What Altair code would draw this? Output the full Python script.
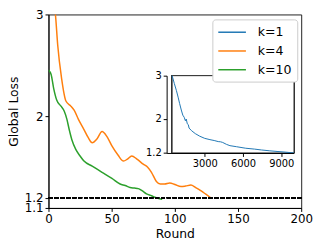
import altair as alt
import pandas as pd

# ---- data ----
series_names = ["k=1", "k=4", "k=10"]
series_colors = ["#1f77b4", "#ff7f0e", "#2ca02c"]

k4_round = [0, 3, 5.5, 7.3, 10.4, 13.8, 17.7, 20.3, 23.7, 28.1, 31.5, 34.6, 38.5, 42.4,
            46.3, 50.2, 55, 59.4, 62.5, 65.9, 70, 75, 78.5, 81.5, 85.4, 88.5, 91.9, 96,
            100, 104.9, 108.5, 112.7, 116.5, 120.5, 124.5, 128.4]
k4_loss = [3.45, 3.18, 3.0, 2.70, 2.37, 2.15, 2.10, 2.06, 1.97, 1.87, 1.79, 1.74, 1.78, 1.85,
           1.80, 1.71, 1.62, 1.56, 1.58, 1.61, 1.58, 1.53, 1.50, 1.45, 1.36, 1.335, 1.335, 1.345,
           1.33, 1.31, 1.315, 1.325, 1.30, 1.27, 1.235, 1.20]

k10_round = [0, 2.1, 4.1, 6.5, 9.9, 12.5, 14.6, 16.4, 18.5, 21.6, 25, 28.1, 34.6, 42.4,
             50.2, 56.7, 60.7, 64.6, 68, 71.1, 74, 77.6, 81.5, 84.1, 88, 90]
k10_loss = [2.455, 2.41, 2.275, 2.16, 2.10, 2.05, 1.97, 1.87, 1.77, 1.675, 1.61, 1.56, 1.51, 1.45,
            1.39, 1.335, 1.32, 1.30, 1.295, 1.29, 1.27, 1.238, 1.22, 1.205, 1.19, 1.185]

k1_round = [430, 600, 770, 900, 1020, 1150, 1270, 1380, 1470, 1540, 1620, 1700, 1760, 1950,
            2250, 2600, 2990, 3400, 3730, 4050, 4230, 4400, 4700, 4970, 5500, 6210, 6900,
            7440, 8100, 8670, 9300, 10000]
k1_loss = [3.0, 2.82, 2.65, 2.5, 2.35, 2.2, 2.08, 2.03, 1.95, 1.99, 1.88, 1.86, 1.78, 1.72,
           1.65, 1.59, 1.54, 1.51, 1.49, 1.465, 1.46, 1.445, 1.40, 1.37, 1.345, 1.31, 1.29,
           1.27, 1.25, 1.235, 1.22, 1.2]

x_ticks = [0, 50, 100, 150, 200]
y_ticks = [1.1, 1.2, 2, 3]
x_domain = [0, 200]
y_domain = [1.1, 3]
inset_x_ticks = [3000, 6000, 9000]
inset_y_ticks = [1.2, 2, 3]
inset_x_domain = [430, 10000]
inset_y_domain = [1.2, 3]
target_loss = 1.2

main_df = pd.DataFrame({
    "round": k4_round + k10_round,
    "loss": k4_loss + k10_loss,
    "k": ["k=4"] * len(k4_round) + ["k=10"] * len(k10_round),
})
inset_df = pd.DataFrame({"round": k1_round, "loss": k1_loss, "k": ["k=1"] * len(k1_round)})

# ---- layout ----
W, H = 256, 196
IN_L, IN_R, IN_T, IN_B = 119.7, 248.7, 62, 140.3
FONT = "DejaVu Sans"

axis_style = dict(
    grid=False, domainColor="black", tickColor="black", labelColor="black",
    titleColor="black", tickSize=3.5, labelPadding=2, labelFlush=False,
    labelOverlap=False, labelFont=FONT, titleFont=FONT, titleFontWeight="normal",
)

color = alt.Color(
    "k:N",
    scale=alt.Scale(domain=series_names, range=series_colors),
    legend=alt.Legend(
        title=None, orient="none", legendX=166, legendY=5,
        symbolType="M-1,0H3", symbolSize=196, symbolStrokeWidth=1.5,
        labelOffset=25, labelFontSize=12.7, labelFont=FONT, labelColor="black",
        padding=5, rowPadding=4, strokeColor="#cccccc", fillColor="white",
        cornerRadius=3,
    ),
)

x_main = alt.X("round:Q", scale=alt.Scale(domain=x_domain, nice=False),
               axis=alt.Axis(values=x_ticks, format="d", title="Round", labelFontSize=12,
                             titleFontSize=12.5, titlePadding=3, **axis_style))
y_main = alt.Y("loss:Q", scale=alt.Scale(domain=y_domain, nice=False, zero=False),
               axis=alt.Axis(values=y_ticks, format="~g", title="Global Loss", labelFontSize=12,
                             titleFontSize=12.5, titlePadding=4, **axis_style))

lines = alt.Chart(main_df).mark_line(clip=True, strokeWidth=1.5, interpolate="monotone").encode(
    x=x_main, y=y_main, color=color
)
target = alt.Chart(main_df).mark_rule(color="black", strokeWidth=1, strokeDash=[4, 2]).encode(
    y=alt.datum(target_loss)
)
main = alt.layer(lines, target)

x_in = alt.X("round:Q", scale=alt.Scale(domain=inset_x_domain, range=[IN_L, IN_R], nice=False),
             axis=alt.Axis(values=inset_x_ticks, format="d", title=None, orient="bottom",
                           offset=IN_B - H, labelFontSize=10, zindex=1, **axis_style))
y_in = alt.Y("loss:Q", scale=alt.Scale(domain=inset_y_domain, range=[IN_B, IN_T], nice=False, zero=False),
             axis=alt.Axis(values=inset_y_ticks, format="~g", title=None, orient="left",
                           offset=-IN_L, labelFontSize=10, zindex=1, **axis_style))

frame = alt.Chart(inset_df).mark_rect(fill="white", stroke="#333333", strokeWidth=1).encode(
    x=alt.datum(inset_x_domain[0]), x2=alt.datum(inset_x_domain[1]),
    y=alt.datum(inset_y_domain[0]), y2=alt.datum(inset_y_domain[1]),
)
inset_line = alt.Chart(inset_df).mark_line(strokeWidth=1, clip=True).encode(
    x=x_in, y=y_in, color=color
)
inset = alt.layer(frame, inset_line)

chart = alt.layer(main, inset).resolve_scale(x="independent", y="independent").properties(
    width=W, height=H,
    autosize=alt.AutoSizeParams(type="none"),
    padding={"left": 41, "top": 5, "right": 16, "bottom": 37},
).configure(font=FONT).configure_view(stroke="#222222", strokeWidth=1)

chart.save("out.html", embed_options={"renderer": "svg", "actions": False})
